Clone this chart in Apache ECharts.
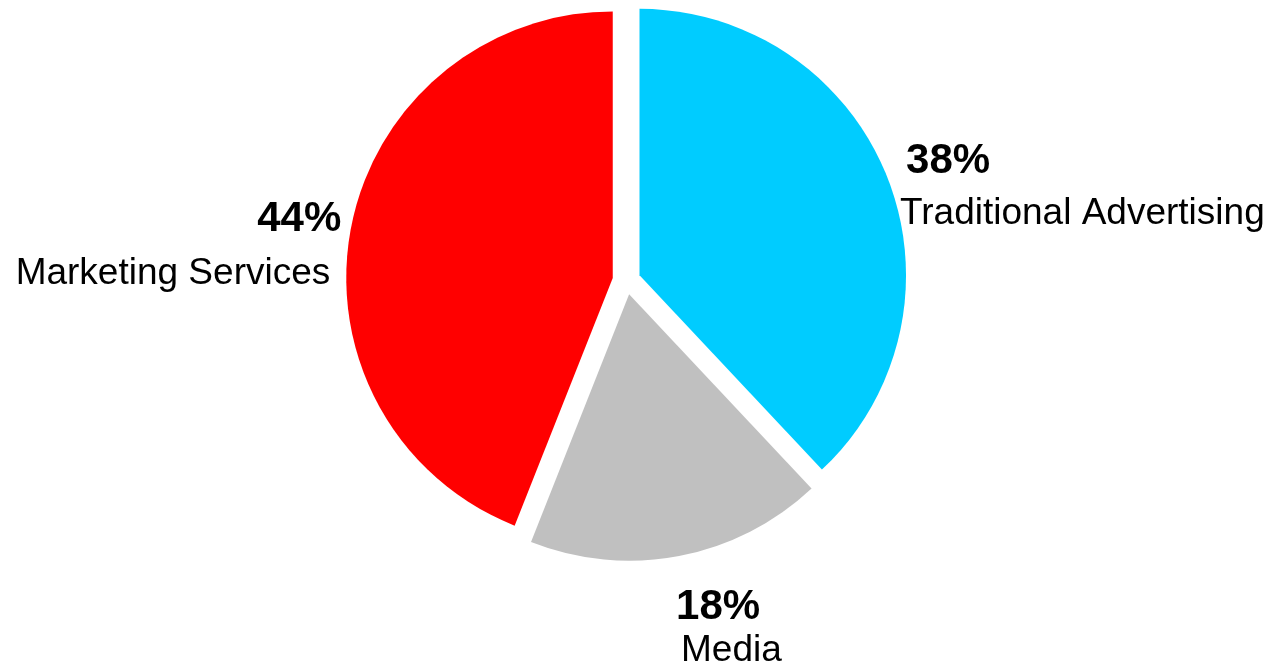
<!DOCTYPE html>
<html>
<head>
<meta charset="utf-8">
<script src="https://cdn.jsdelivr.net/npm/echarts@6/dist/echarts.min.js"></script>
<style>
html,body{margin:0;padding:0;background:#fff;}
#chart{width:1270px;height:666px;}
</style>
</head>
<body>
<div id="chart"></div>
<script>
const categories = ['Traditional Advertising', 'Media', 'Marketing Services'];
const values = [38, 18, 44];
const colors = ['#00CCFF', '#C0C0C0', '#FF0000'];

// label layout (target box of each text block)
const labelPos = [
  { x: 887, y: 146, align: 'left',  pctPad: [0, 0, 0, 6],  namePad: [0, 0, 0, 0],  pctLH: 48, nameLH: 55 },
  { x: 673.4, y: 573, align: 'left',  pctPad: [0, 0, 0, 0],  namePad: [0, 0, 0, 5],  pctLH: 48, nameLH: 38 },
  { x: 355, y: 201, align: 'right', pctPad: [0, 0, 0, 0],  namePad: [0, 11, 0, 0], pctLH: 48, nameLH: 61 }
];

const FONT = '"Liberation Sans", Arial, sans-serif';

const data = categories.map((name, i) => ({
  name: name,
  value: values[i],
  selected: true,
  itemStyle: { color: colors[i] },
  label: {
    align: labelPos[i].align,
    rich: {
      p: { fontSize: 42, fontWeight: 'bold', color: '#000', fontFamily: FONT,
           lineHeight: labelPos[i].pctLH, padding: labelPos[i].pctPad, align: labelPos[i].align },
      n: { fontSize: 37, color: '#000', fontFamily: FONT,
           lineHeight: labelPos[i].nameLH, padding: labelPos[i].namePad, align: labelPos[i].align }
    }
  }
}));

const chart = echarts.init(document.getElementById('chart'));
chart.setOption({
  animation: false,
  backgroundColor: '#fff',
  series: [{
    type: 'pie',
    center: [626.5, 280.5],
    radius: 266.5,
    startAngle: 90,
    clockwise: true,
    selectedMode: 'multiple',
    selectedOffset: 14,
    avoidLabelOverlap: false,
    emphasis: { disabled: true },
    label: {
      show: true,
      position: 'outside',
      formatter: p => '{p|' + p.value + '%}\n{n|' + p.name + '}'
    },
    labelLine: { show: false },
    labelLayout: function (params) {
      const lp = labelPos[params.dataIndex];
      const r = params.labelRect;
      const tx = lp.align === 'right' ? lp.x - r.width : lp.x;
      return { dx: tx - r.x, dy: lp.y - r.y };
    },
    data: data
  }]
});
</script>
</body>
</html>
